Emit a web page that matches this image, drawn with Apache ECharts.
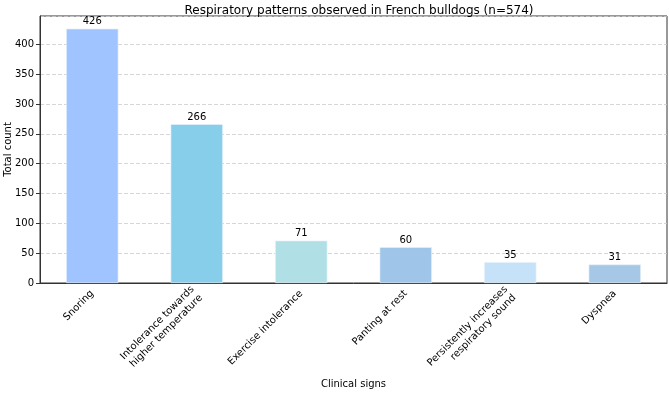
<!DOCTYPE html>
<html>
<head>
<meta charset="utf-8">
<script src="https://cdn.jsdelivr.net/npm/echarts@6/dist/echarts.min.js"></script>
<style>
  html, body { margin: 0; padding: 0; background: #fff; }
  #chart { width: 669px; height: 393px; }
</style>
</head>
<body>
<div id="chart"></div>
<script>
  var categories = ['Snoring', 'Intolerance towards\nhigher temperature', 'Exercise intolerance',
    'Panting at rest', 'Persistently increases\nrespiratory sound', 'Dyspnea'];
  var counts = [426, 266, 71, 60, 35, 31];
  var barColors = ['#A0C4FF', '#87CEEB', '#B0E0E6', '#9FC5E8', '#C6E2F9', '#A7C7E7'];

  var chart = echarts.init(document.getElementById('chart'));
  var font = 'DejaVu Sans';
  chart.setOption({
    animation: false,
    textStyle: { fontFamily: font },
    title: {
      text: 'Respiratory patterns observed in French bulldogs (n=574)',
      left: 354,
      textAlign: 'center',
      top: 0,
      textStyle: { fontSize: 12, fontWeight: 'normal', color: '#000', fontFamily: font }
    },
    grid: {
      left: 40, right: 2, top: 16, bottom: 110,
      outerBoundsMode: 'none',
      containLabel: false,
      show: true, borderColor: '#333', borderWidth: 1
    },
    xAxis: {
      type: 'category',
      data: categories,
      name: 'Clinical signs',
      nameLocation: 'middle',
      nameGap: 96,
      nameMoveOverlap: false,
      nameTextStyle: { fontSize: 10, color: '#000' },
      axisLine: { lineStyle: { color: '#333' } },
      axisTick: { alignWithLabel: true, length: 4, lineStyle: { color: '#333' } },
      axisLabel: { rotate: 45, fontSize: 10, color: '#000', margin: 9, interval: 0, lineHeight: 12 }
    },
    yAxis: {
      type: 'value',
      min: 0,
      max: 447.3,
      interval: 50,
      name: 'Total count',
      nameLocation: 'middle',
      nameGap: 27,
      nameMoveOverlap: false,
      nameTextStyle: { fontSize: 10, color: '#000' },
      axisLine: { show: true, lineStyle: { color: '#333' } },
      axisTick: { show: true, length: 4, lineStyle: { color: '#333' } },
      axisLabel: { fontSize: 10, color: '#000', showMaxLabel: false, margin: 6 },
      splitLine: { lineStyle: { type: [4, 2], color: '#ccc', width: 0.8 } }
    },
    series: [{
      type: 'bar',
      barWidth: '50%',
      data: counts.map(function (v, i) {
        return { value: v, itemStyle: { color: barColors[i] } };
      }),
      itemStyle: { borderColor: '#e8f2fc', borderWidth: 0.6 },
      label: { show: true, position: 'top', distance: 2, fontSize: 10, color: '#000' }
    }]
  });
</script>
</body>
</html>
